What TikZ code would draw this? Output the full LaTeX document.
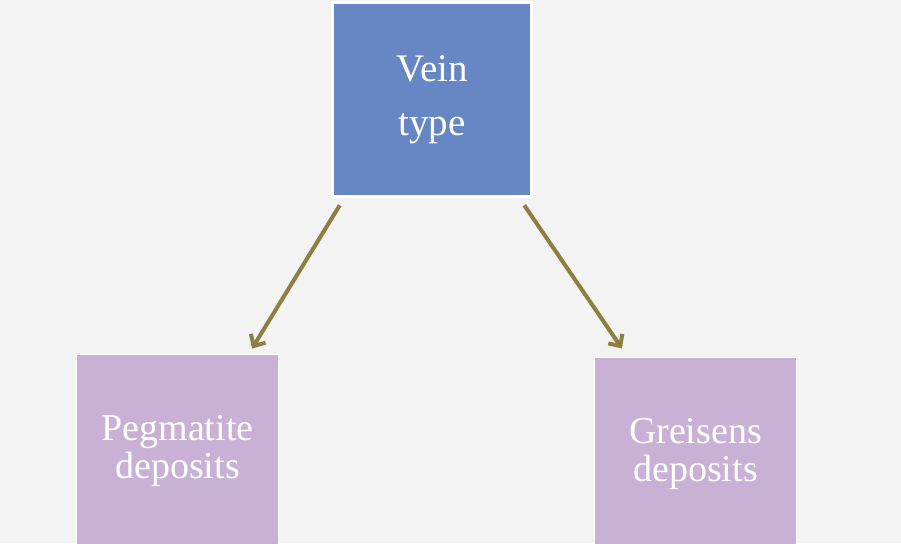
\documentclass[tikz,border=0pt]{standalone}
\usepackage{fontspec}
\setmainfont{Liberation Serif}
\usetikzlibrary{calc,arrows.meta}
\definecolor{bggray}{HTML}{F3F3F3}
\definecolor{veinblue}{HTML}{6686C4}
\definecolor{depositlilac}{HTML}{C8B1D5}
\definecolor{arrowolive}{HTML}{8E7E40}
\tikzstyle{topbox}=[
    draw=white,line width=3.5pt,fill=veinblue,text=white,
    minimum width=199pt,minimum height=194pt,align=center,
    font=\fontsize{39}{54}\selectfont
    ]
\tikzstyle{depositbox}=[
    draw=white,line width=1pt,fill=depositlilac,text=white,
    minimum width=202pt,minimum height=194pt,align=center,
    font=\fontsize{38}{38}\selectfont
    ]
\tikzstyle{branch}=[
    draw=arrowolive,line width=4pt,
    -{Straight Barb[length=9pt,width=17pt,line width=4pt]}
    ]

\begin{document}
\begin{tikzpicture}[x=1pt,y=-1pt]
\fill[bggray] (0,0) rectangle (901,543);
\useasboundingbox (0,0) rectangle (901,543);
\begin{scope}
\clip (0,0) rectangle (901,543);
%boxes
\node[topbox] (vein) at (432,99.5) {Vein\\type};
\node[depositbox] (pegmatite) at (177.5,451) {Pegmatite\\deposits};
\node[depositbox] (greisens) at (695.5,454) {Greisens\\deposits};
\end{scope}
%arrows from vein to deposits
\draw[branch] ($(vein.south west)+(9,7)$) -- ($(pegmatite.north east)+(-27,-5)$);
\draw[branch] ($(vein.south east)+(-9,7)$) -- ($(greisens.north west)+(28,-8)$);
\end{tikzpicture}
\end{document}
